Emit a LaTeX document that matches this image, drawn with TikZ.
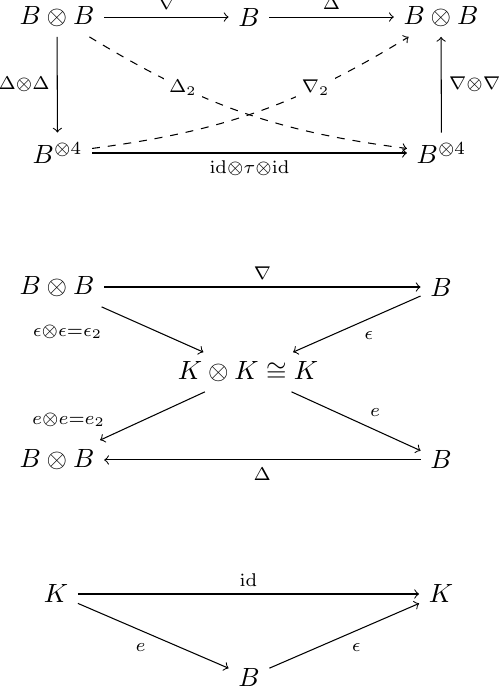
\documentclass[tikz,border=0pt]{standalone}
\usepackage{amsmath}
\usepackage{amssymb}
\usetikzlibrary{arrows, positioning}

\begin{document}
\begin{tikzpicture}[every node/.style={inner sep=3.5pt}, lbl/.style={inner sep=2.7pt}, gaplbl/.style={fill=white, inner sep=2pt}]
            \useasboundingbox (0,0) rectangle (6.667,-9.147);

            % Square with the two crossing maps
            \node (bbA) at (0.76, -0.227) {$B \otimes B$};
            \node (bA) at (3.32, -0.227) {$B$};
            \node (bbB) at (5.88, -0.227) {$B \otimes B$};
            \node (fourL) at (0.767, -2.04) {$B^{\otimes 4}$};
            \node (fourR) at (5.887, -2.04) {$B^{\otimes 4}$};

            \draw[->] (bbA) -- node[lbl, above] {$\scriptstyle\nabla$} (bA);
            \draw[->] (bA) -- node[lbl, above] {$\scriptstyle\Delta$} (bbB);
            \draw[->] (bbA) -- node[lbl, left] {$\scriptstyle\Delta\otimes\Delta$} (fourL);
            \draw[->] (fourR) -- node[lbl, right] {$\scriptstyle\nabla\otimes\nabla$} (bbB);
            \draw[->] (fourL) -- node[lbl, below] {$\scriptstyle\mathrm{id}\otimes\tau\otimes\mathrm{id}$} (fourR);
            \draw[->, dashed] (bbA) to[bend right=12] node[gaplbl, pos=0.3] {$\scriptstyle\Delta_2$} (fourR);
            \draw[->, dashed] (fourL) to[bend right=12] node[gaplbl, pos=0.7] {$\scriptstyle\nabla_2$} (bbB);

            % Bow tie through the unit object
            \node (bbC) at (0.76, -3.827) {$B \otimes B$};
            \node (bC) at (5.88, -3.827) {$B$};
            \node (kk) at (3.307, -4.96) {$K \otimes K \cong K$};
            \node (bbD) at (0.76, -6.133) {$B \otimes B$};
            \node (bD) at (5.88, -6.133) {$B$};

            \draw[->] (bbC) -- node[lbl, above] {$\scriptstyle\nabla$} (bC);
            \draw[->] (bbC) -- node[lbl, below left, pos=0.08, yshift=-2.5pt] {$\scriptstyle\epsilon\otimes\epsilon=\epsilon_2$} (kk);
            \draw[->] (bC) -- node[lbl, below right] {$\scriptstyle\epsilon$} (kk);
            \draw[->] (kk) -- node[lbl, above left, pos=0.88] {$\scriptstyle e\otimes e=e_2$} (bbD);
            \draw[->] (kk) -- node[lbl, above right, pos=0.55] {$\scriptstyle e$} (bD);
            \draw[->] (bD) -- node[lbl, below] {$\scriptstyle\Delta$} (bbD);

            % Triangle
            \node (kA) at (0.747, -7.92) {$K$};
            \node (kB) at (5.88, -7.92) {$K$};
            \node (bE) at (3.32, -9.027) {$B$};

            \draw[->] (kA) -- node[lbl, above] {$\scriptstyle\mathrm{id}$} (kB);
            \draw[->] (kA) -- node[lbl, below left] {$\scriptstyle e$} (bE);
            \draw[->] (bE) -- node[lbl, below right] {$\scriptstyle\epsilon$} (kB);
        \end{tikzpicture}
\end{document}
